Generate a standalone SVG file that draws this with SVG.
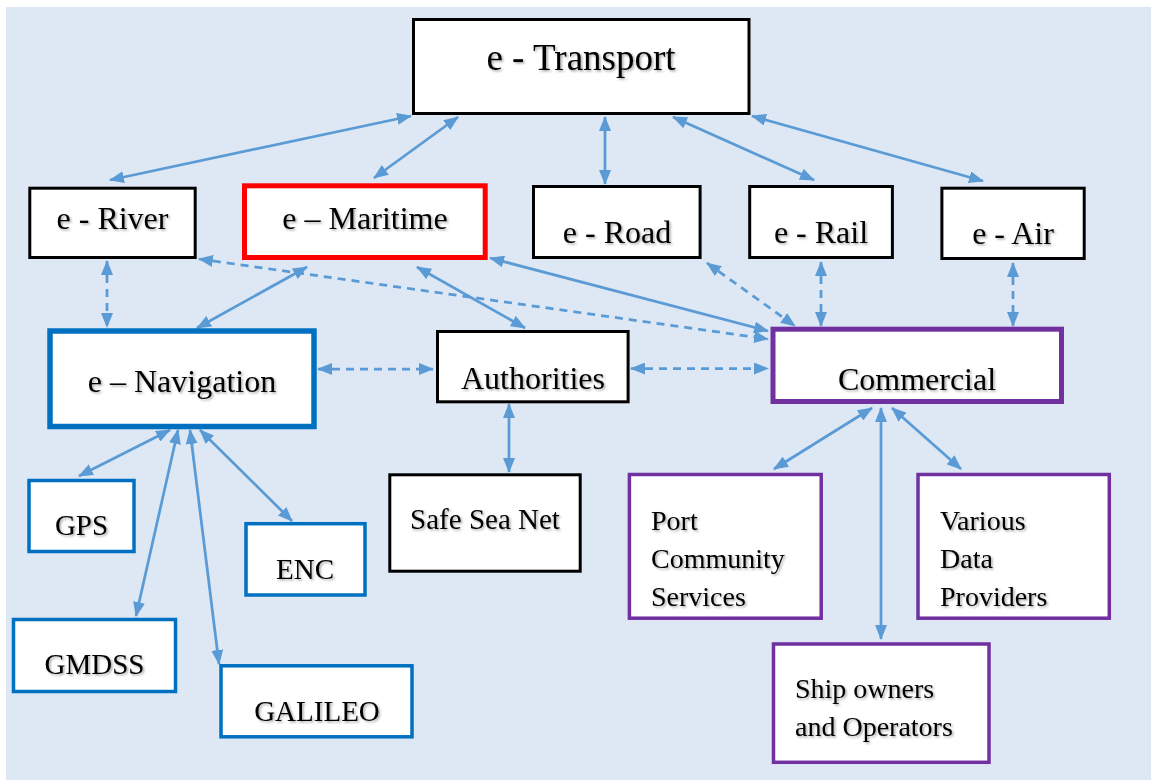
<svg xmlns="http://www.w3.org/2000/svg" width="1151" height="784" viewBox="0 0 1151 784">
  <defs>
    <marker id="arrow" viewBox="0 0 15 12" refX="14" refY="6" markerWidth="15" markerHeight="12" markerUnits="userSpaceOnUse" orient="auto-start-reverse">
      <path d="M0,0 L15,6 L0,12 z" fill="#5b9bd5"/>
    </marker>
    <filter id="shadow" x="-10%" y="-20%" width="130%" height="150%">
      <feDropShadow dx="1.5" dy="1.5" stdDeviation="1" flood-color="#000" flood-opacity="0.35"/>
    </filter>
  </defs>
  <style>
    .box { fill: #ffffff; }
    .plain { stroke: #000000; stroke-width: 3; }
    .red { stroke: #ff0000; stroke-width: 5; }
    .navy { stroke: #0070c0; stroke-width: 5.5; }
    .blue { stroke: #0070c0; stroke-width: 3.5; }
    .purple { stroke: #7030a0; stroke-width: 5; }
    .violet { stroke: #7030a0; stroke-width: 3.5; }
    text { font-family: "Liberation Serif", "Times New Roman", serif; fill: #000000; filter: url(#shadow); }
    .big { font-size: 37px; text-anchor: middle; }
    .mid { font-size: 32px; text-anchor: middle; }
    .small { font-size: 29px; text-anchor: middle; }
    .list { font-size: 28px; }
    .link { stroke: #5b9bd5; stroke-width: 2.75; fill: none; marker-start: url(#arrow); marker-end: url(#arrow); }
    .dash { stroke-dasharray: 8 6; }
  </style>

  <!-- page background -->
  <rect x="6" y="7" width="1145" height="773" fill="#dde8f4"/>

  <!-- connectors -->
  <g id="connectors">
    <line class="link" x1="411" y1="116" x2="110" y2="180"/>
    <line class="link" x1="458" y1="117" x2="374" y2="178"/>
    <line class="link" x1="605" y1="117" x2="605" y2="184"/>
    <line class="link" x1="673" y1="117" x2="814" y2="180"/>
    <line class="link" x1="752" y1="116" x2="983" y2="181"/>
    <line class="link dash" x1="107" y1="261" x2="107" y2="327"/>
    <line class="link" x1="307" y1="267" x2="197" y2="328"/>
    <line class="link" x1="417" y1="267" x2="525" y2="328"/>
    <line class="link" x1="490" y1="258" x2="768" y2="331"/>
    <line class="link dash" x1="199" y1="259" x2="768" y2="339"/>
    <line class="link dash" x1="707" y1="263" x2="795" y2="326"/>
    <line class="link dash" x1="821" y1="262" x2="821" y2="326"/>
    <line class="link dash" x1="1013" y1="263" x2="1013" y2="326"/>
    <line class="link dash" x1="318" y1="369" x2="433" y2="369"/>
    <line class="link dash" x1="631" y1="368.5" x2="768" y2="368.5"/>
    <line class="link" x1="509" y1="404" x2="509" y2="472"/>
    <line class="link" x1="170" y1="430" x2="79" y2="476"/>
    <line class="link" x1="178" y1="430" x2="136" y2="616"/>
    <line class="link" x1="190" y1="430" x2="219" y2="664"/>
    <line class="link" x1="200" y1="430" x2="292" y2="521"/>
    <line class="link" x1="872" y1="408" x2="774" y2="469"/>
    <line class="link" x1="881" y1="408" x2="881" y2="639"/>
    <line class="link" x1="892" y1="408" x2="961" y2="469"/>
  </g>

  <!-- nodes -->
  <g id="transport">
    <rect class="box plain" x="413.5" y="19.5" width="335.5" height="94" stroke-width="3.3"/>
    <text class="big" x="581" y="70">e - Transport</text>
  </g>
  <g id="river">
    <rect class="box plain" x="29.8" y="188.2" width="165.4" height="69.3"/>
    <text class="mid" x="112.5" y="229">e - River</text>
  </g>
  <g id="maritime">
    <rect class="box red" x="244.5" y="185.8" width="240.7" height="71.7"/>
    <text class="mid" x="365" y="229">e – Maritime</text>
  </g>
  <g id="road">
    <rect class="box plain" x="533.5" y="186.5" width="166.6" height="71"/>
    <text class="mid" x="617" y="243">e - Road</text>
  </g>
  <g id="rail">
    <rect class="box plain" x="749.7" y="186.5" width="142.7" height="71"/>
    <text class="mid" x="821" y="243">e - Rail</text>
  </g>
  <g id="air">
    <rect class="box plain" x="941.9" y="188.2" width="142.3" height="70.3"/>
    <text class="mid" x="1013" y="244">e - Air</text>
  </g>
  <g id="navigation">
    <rect class="box navy" x="50" y="331" width="264" height="95.5"/>
    <text class="mid" x="182" y="391.5">e – Navigation</text>
  </g>
  <g id="authorities">
    <rect class="box plain" x="437.5" y="331.5" width="190.6" height="70.3"/>
    <text class="mid" x="533" y="388.5">Authorities</text>
  </g>
  <g id="commercial">
    <rect class="box purple" x="773" y="329.2" width="288.5" height="72.3"/>
    <text class="mid" x="917" y="389.5">Commercial</text>
  </g>
  <g id="gps">
    <rect class="box blue" x="29" y="480.5" width="105" height="71"/>
    <text class="small" x="81.5" y="535">GPS</text>
  </g>
  <g id="enc">
    <rect class="box blue" x="246" y="523.7" width="119" height="71.3"/>
    <text class="small" x="305" y="579">ENC</text>
  </g>
  <g id="gmdss">
    <rect class="box blue" x="13.5" y="619.5" width="162" height="72"/>
    <text class="small" x="94.5" y="674">GMDSS</text>
  </g>
  <g id="galileo">
    <rect class="box blue" x="221" y="665.8" width="191" height="71"/>
    <text class="small" x="317" y="720.5">GALILEO</text>
  </g>
  <g id="safe-sea-net">
    <rect class="box plain" x="389.8" y="474.8" width="190.4" height="96.4"/>
    <text class="small" x="485" y="529">Safe Sea Net</text>
  </g>
  <g id="port-community">
    <rect class="box violet" x="629.4" y="474.5" width="191.8" height="143.7"/>
    <text class="list" x="651" y="530">Port</text>
    <text class="list" x="651" y="568">Community</text>
    <text class="list" x="651" y="606">Services</text>
  </g>
  <g id="data-providers">
    <rect class="box violet" x="918" y="474.5" width="191.3" height="143.7"/>
    <text class="list" x="940" y="530">Various</text>
    <text class="list" x="940" y="568">Data</text>
    <text class="list" x="940" y="606">Providers</text>
  </g>
  <g id="ship-owners">
    <rect class="box violet" x="773.5" y="644" width="215.5" height="118.3"/>
    <text class="list" x="795" y="698">Ship owners</text>
    <text class="list" x="795" y="736">and Operators</text>
  </g>
</svg>
